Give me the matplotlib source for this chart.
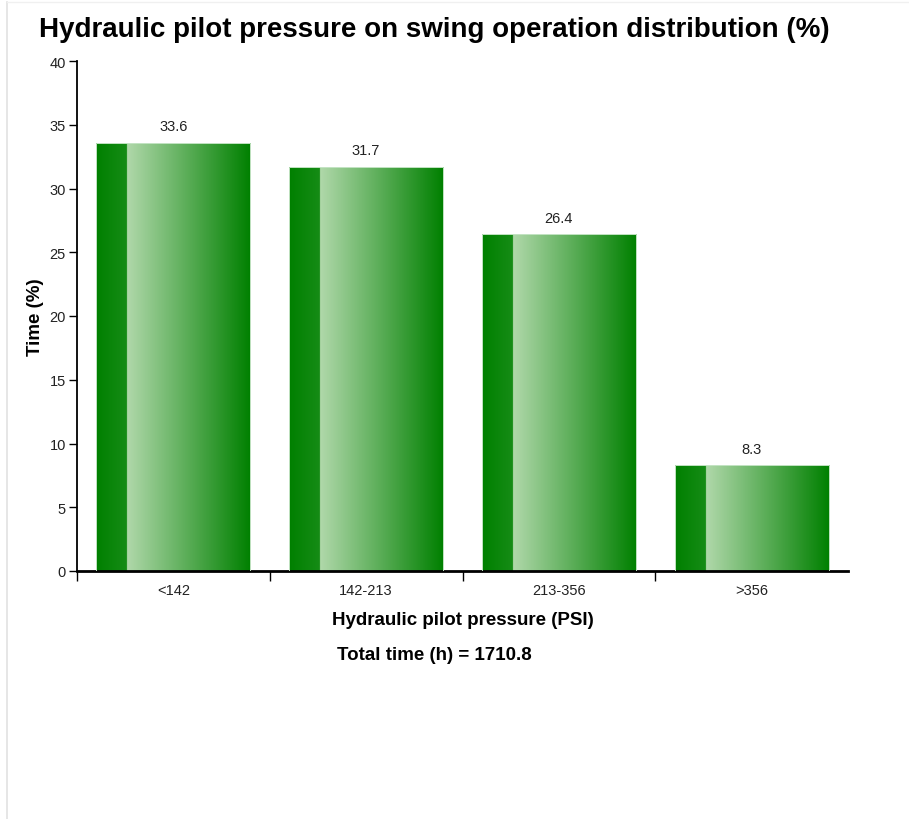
import numpy as np
import matplotlib
matplotlib.use('Agg')
import matplotlib.pyplot as plt
from matplotlib.lines import Line2D

categories = ['<142', '142-213', '213-356', '>356']
values = [33.6, 31.7, 26.4, 8.3]
total_time = 1710.8

plt.rcParams['font.family'] = ['Liberation Sans', 'DejaVu Sans']

fig = plt.figure(figsize=(9.09, 8.2), dpi=100)
W, H = 909, 820
ax = fig.add_axes([77 / W, (H - 572) / H, (848 - 77) / W, (572 - 62) / H])

x = np.arange(len(categories))
bars = ax.bar(x, values, width=0.8, color='none', edgecolor='none')


def make_gradient(n=200):
    # dark strip on the left, then light -> dark green
    dark = np.array([0, 128, 0]) / 255
    dark2 = np.array([22, 140, 22]) / 255
    light = np.array([176, 216, 170]) / 255
    t = np.linspace(0, 1, n)
    cols = np.zeros((1, n, 3))
    for i, v in enumerate(t):
        if v < 0.2:
            f = v / 0.2
            cols[0, i] = dark + (dark2 - dark) * f
        else:
            f = (v - 0.2) / 0.8
            cols[0, i] = light + (dark - light) * f
    return cols


grad = make_gradient()
for b in bars:
    x0 = b.get_x()
    x1 = x0 + b.get_width()
    h = b.get_height()
    im = ax.imshow(grad, extent=[x0, x1, 0, h], aspect='auto', zorder=2,
                   interpolation='bilinear')
    im.set_clip_path(b)
    ax.add_patch(plt.Rectangle((x0, 0), x1 - x0, h, fill=False,
                               edgecolor='#c4e4c4', lw=0.7, zorder=3))
    ax.text(x0 + (x1 - x0) / 2, h + 0.75, f'{h:.1f}', ha='center', va='bottom',
            fontsize=10.5, color='#222222', zorder=4)

ax.set_xlim(-0.5, len(categories) - 0.5)
ax.set_ylim(0, 40)

ax.set_yticks(range(0, 41, 5))
ax.tick_params(axis='y', length=6, width=1, labelsize=10.5, labelcolor='#222222', pad=2)
ax.set_xticks(np.arange(-0.5, len(categories) - 0.5, 1))
ax.set_xticklabels([])
ax.tick_params(axis='x', length=7, width=1)
ax.set_xticks(x, minor=True)
ax.set_xticklabels(categories, minor=True)
ax.tick_params(axis='x', which='minor', length=0, labelsize=10.5,
               labelcolor='#222222', pad=9)

for s in ['top', 'right']:
    ax.spines[s].set_visible(False)
ax.spines['left'].set_linewidth(1.3)
ax.spines['bottom'].set_linewidth(2)

ax.set_ylabel('Time (%)', fontsize=13.5, fontweight='bold', labelpad=4)
ax.set_xlabel('Hydraulic pilot pressure (PSI)', fontsize=13.5, fontweight='bold', labelpad=10)

fig.text(434 / W, 1 - 30 / H, 'Hydraulic pilot pressure on swing operation distribution (%)',
         ha='center', va='center', fontsize=20, fontweight='bold')
fig.text(434 / W, 1 - 655 / H, f'Total time (h) = {total_time}',
         ha='center', va='center', fontsize=13.5, fontweight='bold')

# faint frame around the panel
fig.add_artist(Line2D([7.5 / W, 7.5 / W], [0, 1 - 3 / H], color='#e2e2e2', lw=1.2))
fig.add_artist(Line2D([7.5 / W, 1], [1 - 3 / H, 1 - 3 / H], color='#f0f0f0', lw=1))

fig.savefig('out.png', dpi=100)
